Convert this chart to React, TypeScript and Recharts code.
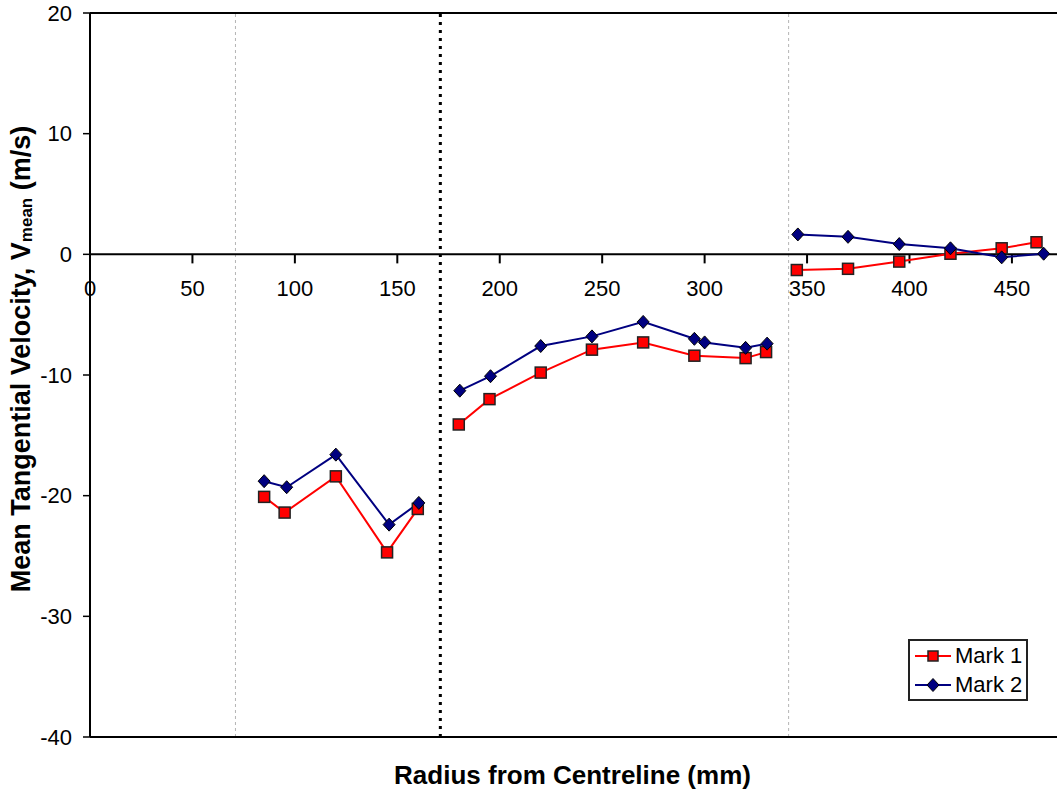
import React from "react";
import {
  LineChart,
  Line,
  XAxis,
  YAxis,
  ReferenceLine,
} from "recharts";

// null marks a break in the line between measurement sections
const mark1Radius = [85, 95, 120, 145, 160, 170, 180, 195, 220, 245, 270, 295, 320, 330, 338, 345, 370, 395, 420, 445, 462];
const mark1Velocity = [-20.1, -21.4, -18.4, -24.7, -21.1, null, -14.1, -12.0, -9.8, -7.9, -7.3, -8.4, -8.6, -8.1, null, -1.3, -1.2, -0.6, 0.05, 0.5, 1.0];

const mark2Radius = [85, 96, 120, 146, 160.5, 170, 180.5, 195.5, 220, 245, 270, 295, 300, 320, 330.5, 338, 345.5, 370, 395, 420, 445, 465.5];
const mark2Velocity = [-18.8, -19.3, -16.6, -22.4, -20.6, null, -11.3, -10.1, -7.6, -6.8, -5.6, -7.0, -7.3, -7.75, -7.4, null, 1.65, 1.45, 0.85, 0.5, -0.25, 0.05];

const xTicks = [0, 50, 100, 150, 200, 250, 300, 350, 400, 450];
const yTicks = [-40, -30, -20, -10, 0, 10, 20];
const sectionLines = [71, 341];
const centreLine = 171;

const mark1Data = mark1Radius.map((r, i) => ({ r, v: mark1Velocity[i] }));
const mark2Data = mark2Radius.map((r, i) => ({ r, v: mark2Velocity[i] }));

const FONT = "'Liberation Sans', Arial, sans-serif";

const SquareDot = (props: any) => {
  const { cx, cy, index } = props;
  if (cx == null || cy == null || props.value == null) return <g key={`s-${index}`} />;
  return (
    <rect
      key={`s-${index}`}
      x={cx - 5.5}
      y={cy - 5.5}
      width={11}
      height={11}
      fill="#FF0000"
      stroke="#222"
      strokeWidth={1.5}
    />
  );
};

const DiamondDot = (props: any) => {
  const { cx, cy, index } = props;
  if (cx == null || cy == null || props.value == null) return <g key={`d-${index}`} />;
  return (
    <polygon
      key={`d-${index}`}
      points={`${cx},${cy - 6.5} ${cx + 6},${cy} ${cx},${cy + 6.5} ${cx - 6},${cy}`}
      fill="#000080"
      stroke="#000"
      strokeWidth={1}
    />
  );
};

const YLabel = (props: any) => {
  const { viewBox } = props;
  const cy = viewBox.y + viewBox.height / 2 - 16;
  return (
    <text
      transform={`translate(21, ${cy}) rotate(-90)`}
      textAnchor="middle"
      dominantBaseline="central"
      fontFamily={FONT}
      fontWeight="bold"
      fontSize={27}
      fill="#000"
    >
      Mean Tangential Velocity, V
      <tspan fontSize={17} dy={5}>mean</tspan>
      <tspan dy={-5}> (m/s)</tspan>
    </text>
  );
};

export default function App() {
  return (
    <div style={{ position: "absolute", left: 0, top: 0, width: 1057, height: 794, background: "#fff" }}>
      <LineChart
        width={1057}
        height={794}
        margin={{ top: 13, right: 0, bottom: 57, left: 0 }}
      >
        <XAxis
          type="number"
          dataKey="r"
          domain={[0, 472]}
          ticks={xTicks}
          hide
          allowDataOverflow
        />
        <YAxis
          type="number"
          domain={[-40, 20]}
          ticks={yTicks}
          width={90}
          axisLine={{ stroke: "#000", strokeWidth: 2 }}
          tickLine={{ stroke: "#000", strokeWidth: 1.5 }}
          tickSize={7}
          tickMargin={11}
          tick={{ fill: "#000", fontSize: 22, fontFamily: FONT }}
          label={{ content: YLabel }}
          allowDataOverflow
        />
        {sectionLines.map((x) => (
          <ReferenceLine key={`sec-${x}`} x={x} stroke="#b4b4b4" strokeWidth={1} strokeDasharray="3 3" />
        ))}
        <ReferenceLine x={centreLine} stroke="#000" strokeWidth={3} strokeDasharray="3 5" />
        <ReferenceLine y={20} stroke="#000" strokeWidth={2} />
        <ReferenceLine y={-40} stroke="#000" strokeWidth={2} />
        <ReferenceLine y={0} stroke="#000" strokeWidth={2} />
        {xTicks.map((t) => (
          <ReferenceLine
            key={`xt-${t}`}
            segment={[{ x: t, y: 0 }, { x: t, y: -0.75 }]}
            stroke="#000"
            strokeWidth={2}
            label={{
              value: String(t),
              position: "bottom",
              offset: 17,
              fill: "#000",
              fontSize: 22,
              fontFamily: FONT,
            }}
          />
        ))}
        <Line
          data={mark1Data}
          dataKey="v"
          name="Mark 1"
          stroke="#FF0000"
          strokeWidth={2}
          dot={SquareDot}
          isAnimationActive={false}
        />
        <Line
          data={mark2Data}
          dataKey="v"
          name="Mark 2"
          stroke="#000080"
          strokeWidth={2}
          dot={DiamondDot}
          isAnimationActive={false}
        />
      </LineChart>
      <div
        style={{
          position: "absolute",
          left: 88,
          width: 969,
          top: 760,
          textAlign: "center",
          fontFamily: FONT,
          fontWeight: "bold",
          fontSize: 26,
          lineHeight: "30px",
        }}
      >
        Radius from Centreline (mm)
      </div>
      <div
        style={{
          position: "absolute",
          left: 908,
          top: 639,
          width: 116,
          height: 58,
          border: "2px solid #222",
          background: "#fff",
          fontFamily: FONT,
          fontSize: 22,
        }}
      >
        {[
          { name: "Mark 1", color: "#FF0000", shape: "square" },
          { name: "Mark 2", color: "#000080", shape: "diamond" },
        ].map((item) => (
          <div key={item.name} style={{ display: "flex", alignItems: "center", height: 29 }}>
            <svg width={42} height={20} style={{ marginLeft: 3 }}>
              <line x1={2} y1={10} x2={38} y2={10} stroke={item.color} strokeWidth={2} />
              {item.shape === "square" ? (
                <rect x={15} y={5} width={10} height={10} fill={item.color} stroke="#222" strokeWidth={1.5} />
              ) : (
                <polygon points="20,3.5 26,10 20,16.5 14,10" fill={item.color} stroke="#000" strokeWidth={1} />
              )}
            </svg>
            <span style={{ marginLeft: 0 }}>{item.name}</span>
          </div>
        ))}
      </div>
    </div>
  );
}
